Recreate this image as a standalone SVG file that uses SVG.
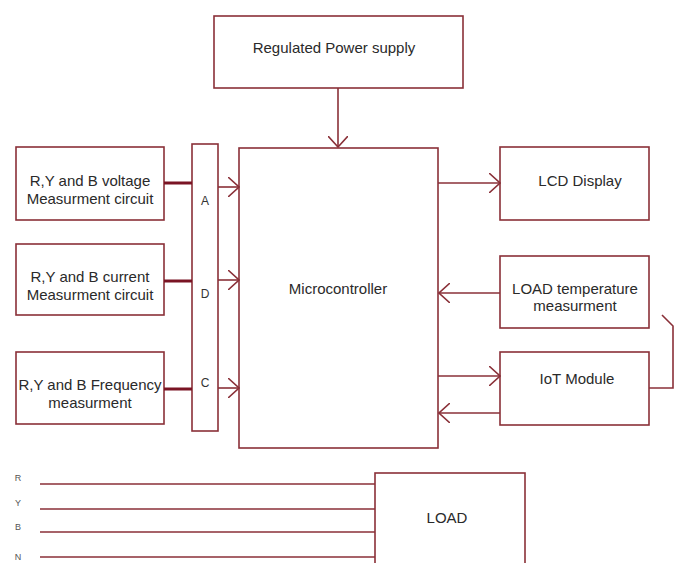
<svg xmlns="http://www.w3.org/2000/svg" width="676" height="563" viewBox="0 0 676 563">
<style>
.box{fill:#fff;stroke:#8a3038;stroke-width:1.6}
.ln{fill:none;stroke:#8a3038;stroke-width:1.6}
.thick{fill:none;stroke:#7a1424;stroke-width:3.2}
text{font-family:"Liberation Sans",Arial,sans-serif;font-size:15px;fill:#2a2a2a;text-anchor:middle}
.sm{font-size:9px;fill:#555}
.lt{font-size:12px;fill:#333}
</style>
<defs>
<marker id="ah" viewBox="0 0 12 20" refX="11" refY="10" markerWidth="12" markerHeight="20" markerUnits="userSpaceOnUse" orient="auto">
<path d="M0,0 L11,10 L0,20" fill="none" stroke="#8a3038" stroke-width="1.6"/>
</marker>
</defs>
<rect width="676" height="563" fill="#fff"/>
<g id="power"><rect class="box" x="214" y="16" width="249" height="72"/><text x="334" y="53">Regulated Power supply</text></g>
<g id="micro"><rect class="box" x="239" y="148" width="199" height="300"/><text x="338" y="294">Microcontroller</text></g>
<g id="volt"><rect class="box" x="16" y="147" width="148" height="73"/><text x="90" y="186">R,Y and B voltage</text><text x="90" y="204">Measurment circuit</text></g>
<g id="curr"><rect class="box" x="16" y="244" width="148" height="71"/><text x="90" y="282">R,Y and B current</text><text x="90" y="300">Measurment circuit</text></g>
<g id="freq"><rect class="box" x="16" y="352" width="148" height="72"/><text x="90" y="390">R,Y and B Frequency</text><text x="90" y="408">measurment</text></g>
<g id="adc"><rect class="box" x="192" y="144" width="26" height="287"/><text class="lt" x="205" y="205">A</text><text class="lt" x="205" y="298">D</text><text class="lt" x="205" y="387">C</text></g>
<g id="lcd"><rect class="box" x="500" y="147" width="149" height="73"/><text x="580" y="186">LCD Display</text></g>
<g id="temp"><rect class="box" x="500" y="256" width="149" height="72"/><text x="575" y="294">LOAD temperature</text><text x="575" y="311">measurment</text></g>
<g id="iot"><rect class="box" x="500" y="352" width="149" height="73"/><text x="577" y="384">IoT Module</text></g>
<g id="load"><rect class="box" x="375" y="473" width="150" height="100"/><text x="447" y="523">LOAD</text></g>
<g id="phases"><text class="sm" x="18" y="481">R</text><text class="sm" x="18" y="506">Y</text><text class="sm" x="18" y="530">B</text><text class="sm" x="18" y="560">N</text></g>
<g id="connectors">
<path class="ln" d="M338,88 V147" marker-end="url(#ah)"/>
<path class="thick" d="M164,183 H192 M164,281 H192 M164,389 H192"/>
<path class="ln" d="M218,187 H239" marker-end="url(#ah)"/>
<path class="ln" d="M218,280 H239" marker-end="url(#ah)"/>
<path class="ln" d="M218,388 H239" marker-end="url(#ah)"/>
<path class="ln" d="M438,183 H500" marker-end="url(#ah)"/>
<path class="ln" d="M500,293 H439" marker-end="url(#ah)"/>
<path class="ln" d="M438,376 H500" marker-end="url(#ah)"/>
<path class="ln" d="M500,413 H439" marker-end="url(#ah)"/>
<path class="ln" d="M649,388 H673 V326 L662,315"/>
<path class="ln" d="M40,484 H375 M40,509 H375 M40,532 H375 M40,557 H375"/>
</g>
</svg>
